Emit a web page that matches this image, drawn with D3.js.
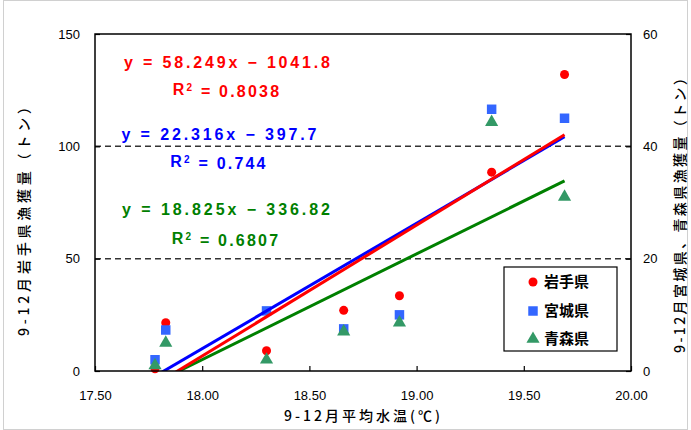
<!DOCTYPE html>
<html>
<head>
<meta charset="utf-8">
<script src="https://cdn.jsdelivr.net/npm/d3@7"></script>
<style>
  body { margin: 0; background: #fff; }
  svg { display: block; }
</style>
</head>
<body>
<div id="root"></div>
<script>
// 9-12月 平均水温と漁獲量
const temps = [17.78, 17.83, 18.30, 18.66, 18.92, 19.35, 19.69]
const iwate = [1, 21.5, 9, 27, 33.5, 88.5, 132]
const miyagi = [2, 7.3, 10.7, 7.5, 10, 46.6, 45]
const aomori = [1, 5, 2, 7, 8.6, 44.3, 31]

const seriesNames = ['岩手県', '宮城県', '青森県']
const xTicks = [17.5, 18.0, 18.5, 19.0, 19.5, 20.0]
const yLeftTicks = [0, 50, 100, 150]
const yRightTicks = [0, 20, 40, 60]

// trendline coefficients as printed on the chart
const fits = [
  { slope: 58.249, icpt: -1041.8, eq: 'y = 58.249x − 1041.8', r2: '0.8038' },
  { slope: 22.316, icpt: -397.7, eq: 'y = 22.316x − 397.7', r2: '0.744' },
  { slope: 18.825, icpt: -336.82, eq: 'y = 18.825x − 336.82', r2: '0.6807' }
]

const w = 691
const h = 430
const pad = { left: 95, right: 60, top: 34, bottom: 59 }

const markColors = ['#ff0000', '#3366ff', '#339966']
const lineColors = ['#ff0000', '#0000ff', '#008000']

const svg = d3.select('#root')
  .append('svg')
  .attr('width', w)
  .attr('height', h)

// outer chart border
svg.append('rect')
  .attr('x', 3.5).attr('y', 0.5)
  .attr('width', w - 7).attr('height', h - 1)
  .attr('fill', 'none')
  .attr('stroke', '#d0d0d0')

const xScale = d3.scaleLinear()
  .domain([17.5, 20.0])
  .range([pad.left, w - pad.right])

const yLeft = d3.scaleLinear()
  .domain([0, 150])
  .range([h - pad.bottom, pad.top])

const yRight = d3.scaleLinear()
  .domain([0, 60])
  .range([h - pad.bottom, pad.top])

svg.append('clipPath')
  .attr('id', 'plot-clip')
  .append('rect')
    .attr('x', pad.left).attr('y', pad.top)
    .attr('width', w - pad.left - pad.right)
    .attr('height', h - pad.top - pad.bottom)

// dashed grid lines
svg.append('g')
  .selectAll('line')
  .data([50, 100])
  .enter()
  .append('line')
    .attr('x1', pad.left).attr('x2', w - pad.right)
    .attr('y1', d => yLeft(d)).attr('y2', d => yLeft(d))
    .attr('stroke', '#333')
    .attr('stroke-width', 1.5)
    .attr('stroke-dasharray', '6,4')

// markers
const rows = temps.map((t, i) => [
  { s: 0, x: t, y: yLeft(iwate[i]) },
  { s: 1, x: t, y: yRight(miyagi[i]) },
  { s: 2, x: t, y: yRight(aomori[i]) }
])
const symbols = [
  d3.symbol().type(d3.symbolCircle).size(64),
  d3.symbol().type(d3.symbolSquare).size(90),
  d3.symbol().type(d3.symbolTriangle).size(75)
]

const marks = svg.append('g')
for (let s = 0; s < 3; s++) {
  marks.selectAll('.m' + s)
    .data(rows.map(r => r[s]))
    .enter()
    .append('path')
      .attr('class', 'm' + s)
      .attr('transform', d => 'translate(' + xScale(d.x) + ',' + d.y + ')')
      .attr('d', symbols[s]())
      .attr('fill', markColors[s])
}

// trendlines
const xMin = d3.min(temps)
const xMax = d3.max(temps)
const lineOrder = [2, 1, 0]
const trend = svg.append('g').attr('clip-path', 'url(#plot-clip)')
lineOrder.forEach(s => {
  const f = fits[s]
  const yS = s === 0 ? yLeft : yRight
  trend.append('line')
    .attr('x1', xScale(xMin)).attr('y1', yS(f.slope * xMin + f.icpt))
    .attr('x2', xScale(xMax)).attr('y2', yS(f.slope * xMax + f.icpt))
    .attr('stroke', lineColors[s])
    .attr('stroke-width', 3)
})

// plot frame
svg.append('rect')
  .attr('x', pad.left).attr('y', pad.top)
  .attr('width', w - pad.left - pad.right)
  .attr('height', h - pad.top - pad.bottom)
  .attr('fill', 'none')
  .attr('stroke', '#000')
  .attr('stroke-width', 1.5)

const tickFont = '"Liberation Sans", Arial, sans-serif'

const xAxis = d3.axisTop(xScale)
  .tickValues(xTicks)
  .tickSize(5)
  .tickFormat(d3.format('.2f'))

const gx = svg.append('g')
  .attr('transform', 'translate(0,' + (h - pad.bottom) + ')')
  .call(xAxis)
gx.select('.domain').remove()
gx.selectAll('text')
  .attr('y', 24)
  .attr('dy', '0.35em')

const gl = svg.append('g')
  .attr('transform', 'translate(' + pad.left + ',0)')
  .call(d3.axisRight(yLeft).tickValues(yLeftTicks).tickSize(5))
gl.select('.domain').remove()
gl.selectAll('text')
  .attr('x', -15)
  .attr('text-anchor', 'end')

const gr = svg.append('g')
  .attr('transform', 'translate(' + (w - pad.right) + ',0)')
  .call(d3.axisLeft(yRight).tickValues(yRightTicks).tickSize(5))
gr.select('.domain').remove()
gr.selectAll('text')
  .attr('x', 12)
  .attr('text-anchor', 'start')

svg.selectAll('.tick line').attr('stroke', '#000').attr('stroke-width', 1.2)
svg.selectAll('.tick text')
  .attr('font-family', tickFont)
  .attr('font-size', 13)
  .attr('fill', '#000')

// axis titles
const cjk = '"Noto Sans CJK JP", sans-serif'
svg.append('text')
  .attr('x', 362)
  .attr('y', 416)
  .attr('dy', '0.35em')
  .attr('text-anchor', 'middle')
  .attr('font-family', cjk)
  .attr('font-size', 14)
  .attr('font-weight', 500)
  .attr('textLength', 156)
  .attr('lengthAdjust', 'spacing')
  .text('9-12月平均水温(℃)')

svg.append('text')
  .attr('transform', 'translate(24,218) rotate(-90)')
  .attr('dy', '0.35em')
  .attr('text-anchor', 'middle')
  .attr('font-family', cjk)
  .attr('font-size', 14)
  .attr('font-weight', 500)
  .attr('textLength', 236)
  .attr('lengthAdjust', 'spacing')
  .text('9-12月岩手県漁獲量（トン）')

svg.append('text')
  .attr('transform', 'translate(680,212) rotate(-90)')
  .attr('dy', '0.35em')
  .attr('text-anchor', 'middle')
  .attr('font-family', cjk)
  .attr('font-size', 14)
  .attr('font-weight', 500)
  .attr('textLength', 282)
  .attr('lengthAdjust', 'spacing')
  .text('9-12月宮城県、青森県漁獲量（トン）')

// equations
const eqPos = [
  { x: 227, y: 62, ry: 89, w: 206 },
  { x: 219, y: 134, ry: 161, w: 195 },
  { x: 226, y: 209, ry: 238, w: 208 }
]
fits.forEach((f, i) => {
  const p = eqPos[i]
  svg.append('text')
    .attr('x', p.x).attr('y', p.y)
    .attr('dy', '0.35em')
    .attr('text-anchor', 'middle')
    .attr('font-family', tickFont)
    .attr('font-weight', 'bold')
    .attr('font-size', 16)
    .attr('fill', lineColors[i])
    .attr('textLength', p.w)
    .attr('lengthAdjust', 'spacing')
    .text(f.eq)
  const r = svg.append('text')
    .attr('x', p.x).attr('y', p.ry)
    .attr('dy', '0.35em')
    .attr('text-anchor', 'middle')
    .attr('font-family', tickFont)
    .attr('font-weight', 'bold')
    .attr('font-size', 16)
    .attr('letter-spacing', 2.2)
    .attr('fill', lineColors[i])
  r.append('tspan').text('R')
  r.append('tspan').attr('dy', '-0.4em').attr('font-size', 10).text('2')
  r.append('tspan').attr('dy', '0.4em').text(' = ' + f.r2)
})

// legend
const legend = svg.append('g')
  .attr('transform', 'translate(504,267)')
legend.append('rect')
  .attr('width', 113).attr('height', 84)
  .attr('fill', '#fff')
  .attr('stroke', '#000')
  .attr('stroke-width', 1.2)
const legendY = [15, 44, 72]
seriesNames.forEach((name, i) => {
  legend.append('path')
    .attr('transform', 'translate(29,' + legendY[i] + ')')
    .attr('d', symbols[i]())
    .attr('fill', markColors[i])
  legend.append('text')
    .attr('x', 40).attr('y', legendY[i])
    .attr('dy', '0.35em')
    .attr('font-family', cjk)
    .attr('font-weight', 'bold')
    .attr('font-size', 15)
    .text(name)
})
</script>
</body>
</html>
